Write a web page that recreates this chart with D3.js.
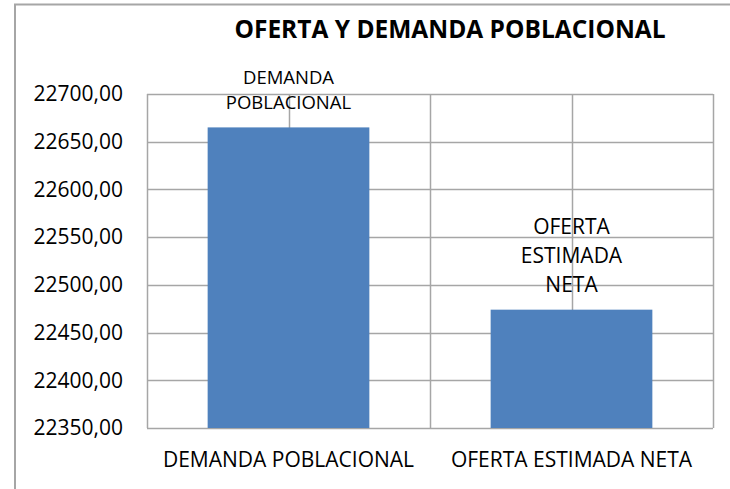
<!DOCTYPE html>
<html>
<head>
<meta charset="utf-8">
<script src="https://cdn.jsdelivr.net/npm/d3@7"></script>
<style>
  html, body { margin: 0; padding: 0; background: #fff; }
  svg { display: block; font-family: "Open Sans", sans-serif; }
</style>
</head>
<body>
<svg id="chart"></svg>
<script>
// data
const categories = ["DEMANDA POBLACIONAL", "OFERTA ESTIMADA NETA"];
const values = [22665, 22474];
const barLabels = [["DEMANDA", "POBLACIONAL"], ["OFERTA", "ESTIMADA", "NETA"]];
const yTicks = [22350, 22400, 22450, 22500, 22550, 22600, 22650, 22700];
const title = "OFERTA Y DEMANDA POBLACIONAL";

const width = 730, height = 489;
const plot = { left: 147, right: 713, top: 94, bottom: 428 };
const gridColor = "#a6a6a6";
const barColor = "#4f81bd";

const svg = d3.select("#chart")
  .attr("width", width)
  .attr("height", height)
  .attr("viewBox", `0 0 ${width} ${height}`);

svg.append("rect").attr("width", width).attr("height", height).attr("fill", "#fff");

// outer chart frame (right and bottom edges are off the picture)
svg.append("path")
  .attr("d", `M15,${height + 5} V4.5 H${width + 5}`)
  .attr("fill", "none")
  .attr("stroke", gridColor)
  .attr("stroke-width", 2);

// scales
const gap = 0.75 / 1.75;
const x = d3.scaleBand().domain(categories).range([plot.left, plot.right])
  .paddingInner(gap).paddingOuter(gap / 2);
const y = d3.scaleLinear().domain([22350, 22700]).range([plot.bottom, plot.top]);

// horizontal gridlines
svg.append("g").selectAll("line")
  .data(yTicks)
  .join("line")
  .attr("x1", plot.left).attr("x2", plot.right)
  .attr("y1", d => Math.round(y(d)) + 0.5).attr("y2", d => Math.round(y(d)) + 0.5)
  .attr("stroke", gridColor).attr("stroke-width", 1.5);

// vertical gridlines: category boundaries and centres
const vlines = [];
categories.forEach((c, i) => {
  vlines.push(plot.left + i * x.step());
  vlines.push(x(c) + x.bandwidth() / 2);
});
vlines.push(plot.right);
svg.append("g").selectAll("line")
  .data(vlines)
  .join("line")
  .attr("x1", d => Math.round(d) + 0.5).attr("x2", d => Math.round(d) + 0.5)
  .attr("y1", plot.top).attr("y2", plot.bottom)
  .attr("stroke", gridColor).attr("stroke-width", 1.5);

// bars
svg.append("g").selectAll("rect")
  .data(categories)
  .join("rect")
  .attr("x", d => x(d))
  .attr("width", x.bandwidth())
  .attr("y", (d, i) => y(values[i]))
  .attr("height", (d, i) => plot.bottom - y(values[i]))
  .attr("fill", barColor);

// y axis tick labels
svg.append("g").selectAll("text")
  .data(yTicks)
  .join("text")
  .attr("x", 123)
  .attr("y", d => y(d))
  .attr("dy", "0.35em")
  .attr("text-anchor", "end")
  .attr("font-size", 21)
  .attr("fill", "#000")
  .text(d => d3.format(".2f")(d).replace(".", ","));

// category labels
svg.append("g").selectAll("text")
  .data(categories)
  .join("text")
  .attr("x", d => x(d) + x.bandwidth() / 2)
  .attr("y", 467)
  .attr("text-anchor", "middle")
  .attr("font-size", 21)
  .attr("fill", "#000")
  .text(d => d);

// data labels above bars
const labelSizes = [18.5, 21];
const lineGaps = [25, 29];
categories.forEach((c, i) => {
  const lines = barLabels[i];
  const base = y(values[i]) - 18;
  svg.append("g").selectAll("text")
    .data(lines)
    .join("text")
    .attr("x", x(c) + x.bandwidth() / 2)
    .attr("y", (d, j) => base - (lines.length - 1 - j) * lineGaps[i])
    .attr("text-anchor", "middle")
    .attr("font-size", labelSizes[i])
    .attr("fill", "#000")
    .text(d => d);
});

// title
svg.append("text")
  .attr("x", 450)
  .attr("y", 38)
  .attr("text-anchor", "middle")
  .attr("font-size", 24.5)
  .attr("font-weight", "bold")
  .attr("fill", "#000")
  .text(title);
</script>
</body>
</html>
